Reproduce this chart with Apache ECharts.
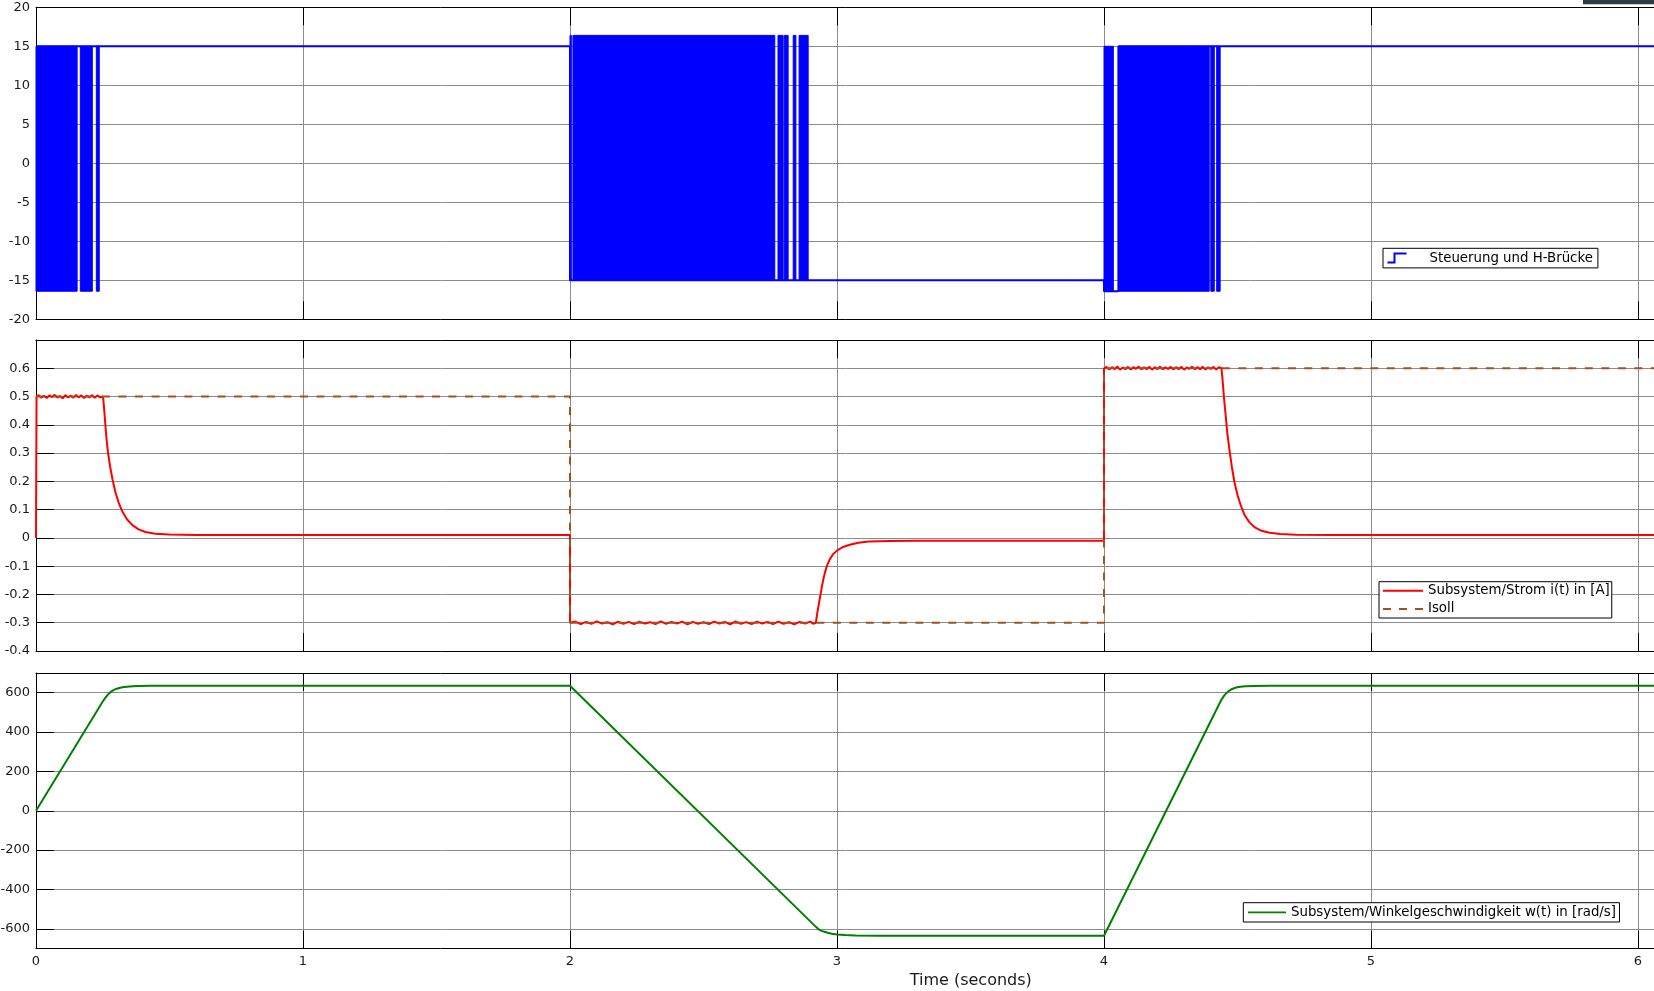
<!DOCTYPE html>
<html>
<head>
<meta charset="utf-8">
<title>Scope</title>
<script src="https://cdn.jsdelivr.net/npm/echarts@6/dist/echarts.min.js"></script>
<style>
    html, body { margin: 0; padding: 0; background: #fff; }
    #scope { width: 1654px; height: 991px; }
</style>
</head>
<body>
<div id="scope"></div>
<script>
// time axis ticks (seconds)
var timeTicks = [0, 1, 2, 3, 4, 5, 6];

// Steuerung und H-Bruecke: base level and dense switching blocks [t0, t1, low, high]
var uBase = [[0, 15], [2.0, 15], [2.0, -15], [4.0, -15], [4.0, -16.4], [4.054, -16.4], [4.054, 15], [6.1, 15]];
var uBursts = [
    [0, 0.154, -16.4, 15], [0.166, 0.211, -16.4, 15], [0.226, 0.237, -16.4, 15],
    [2.0, 2.005, -15, 16.4], [2.011, 2.767, -15, 16.4], [2.779, 2.798, -15, 16.4],
    [2.802, 2.817, -15, 16.4], [2.836, 2.846, -15, 16.4], [2.858, 2.892, -15, 16.4],
    [4.0, 4.035, -16.4, 15], [4.054, 4.394, -16.4, 15], [4.400, 4.413, -16.4, 15], [4.422, 4.435, -16.4, 15]
];

// Subsystem/Strom i(t) in [A]
var iIst = [
    [0, 0], [0.002, 0.5], [0.01, 0.505], [0.02, 0.496], [0.03, 0.503], [0.04, 0.495], [0.05, 0.504],
    [0.06, 0.498], [0.07, 0.506], [0.08, 0.496], [0.09, 0.502], [0.1, 0.494], [0.11, 0.505], [0.12, 0.497],
    [0.13, 0.503], [0.14, 0.496], [0.15, 0.506], [0.16, 0.497], [0.17, 0.504], [0.18, 0.495], [0.19, 0.503],
    [0.2, 0.497], [0.21, 0.505], [0.22, 0.496], [0.23, 0.504], [0.24, 0.497], [0.251, 0.5],
    [0.254, 0.47], [0.259, 0.41], [0.264, 0.35], [0.27, 0.3], [0.278, 0.25], [0.287, 0.205], [0.297, 0.163],
    [0.309, 0.126], [0.323, 0.094], [0.34, 0.067], [0.36, 0.046], [0.384, 0.03], [0.41, 0.021],
    [0.447, 0.015], [0.5, 0.012], [0.6, 0.0105], [0.8, 0.01], [2.0, 0.01],
    [2.0, -0.3], [2.02, -0.296], [2.04, -0.305], [2.06, -0.297], [2.08, -0.304], [2.1, -0.295],
    [2.12, -0.303], [2.14, -0.298], [2.16, -0.306], [2.18, -0.296], [2.2, -0.304], [2.22, -0.297],
    [2.24, -0.305], [2.26, -0.296], [2.28, -0.303], [2.3, -0.298], [2.32, -0.305], [2.34, -0.295],
    [2.36, -0.304], [2.38, -0.297], [2.4, -0.303], [2.42, -0.296], [2.44, -0.306], [2.46, -0.297],
    [2.48, -0.304], [2.5, -0.298], [2.52, -0.305], [2.54, -0.296], [2.56, -0.303], [2.58, -0.297],
    [2.6, -0.306], [2.62, -0.295], [2.64, -0.304], [2.66, -0.298], [2.68, -0.305], [2.7, -0.296],
    [2.72, -0.303], [2.74, -0.297], [2.76, -0.305], [2.78, -0.296], [2.8, -0.304], [2.82, -0.298],
    [2.84, -0.306], [2.86, -0.297], [2.88, -0.303], [2.9, -0.296], [2.91, -0.304], [2.921, -0.3],
    [2.925, -0.272], [2.93, -0.245], [2.936, -0.212], [2.942, -0.18], [2.948, -0.15], [2.955, -0.122],
    [2.963, -0.097], [2.973, -0.076], [2.985, -0.058], [3.0, -0.045], [3.02, -0.033], [3.048, -0.024],
    [3.08, -0.017], [3.12, -0.013], [3.2, -0.0105], [3.3, -0.01], [4.0, -0.01],
    [4.0, 0.6], [4.01, 0.605], [4.02, 0.596], [4.03, 0.604], [4.04, 0.597], [4.05, 0.606], [4.06, 0.595],
    [4.07, 0.603], [4.08, 0.597], [4.09, 0.605], [4.1, 0.596], [4.11, 0.604], [4.12, 0.598], [4.13, 0.606],
    [4.14, 0.596], [4.15, 0.603], [4.16, 0.597], [4.17, 0.605], [4.18, 0.595], [4.19, 0.604], [4.2, 0.597],
    [4.21, 0.606], [4.22, 0.596], [4.23, 0.603], [4.24, 0.598], [4.25, 0.605], [4.26, 0.596], [4.27, 0.604],
    [4.28, 0.597], [4.29, 0.605], [4.3, 0.595], [4.31, 0.603], [4.32, 0.598], [4.33, 0.606], [4.34, 0.596],
    [4.35, 0.604], [4.36, 0.597], [4.37, 0.605], [4.38, 0.596], [4.39, 0.603], [4.4, 0.598], [4.41, 0.605],
    [4.42, 0.596], [4.43, 0.604], [4.44, 0.6],
    [4.444, 0.56], [4.449, 0.5], [4.455, 0.44], [4.462, 0.37], [4.47, 0.31], [4.479, 0.25], [4.489, 0.195],
    [4.5, 0.152], [4.513, 0.113], [4.527, 0.08], [4.545, 0.055], [4.565, 0.037], [4.59, 0.025],
    [4.62, 0.018], [4.66, 0.014], [4.72, 0.0115], [4.85, 0.01], [6.1, 0.01]
];

// Isoll
var iSoll = [[0, 0.5], [2, 0.5], [2, -0.3], [4, -0.3], [4, 0.6], [6.1, 0.6]];

// Subsystem/Winkelgeschwindigkeit w(t) in [rad/s]
var omega = [
    [0, 0], [0.25, 555], [0.26, 575], [0.27, 592], [0.28, 604], [0.29, 613], [0.3, 619], [0.315, 625],
    [0.33, 629], [0.35, 632], [0.38, 634], [0.43, 635], [2.0, 635],
    [2.921, -590], [2.93, -601], [2.94, -609], [2.95, -614], [2.965, -620], [2.98, -625], [3.0, -629],
    [3.03, -632], [3.07, -634], [3.15, -635], [4.0, -635],
    [4.44, 565], [4.45, 585], [4.46, 600], [4.47, 611], [4.48, 619], [4.495, 626], [4.51, 630],
    [4.53, 633], [4.56, 634.5], [4.62, 635], [6.1, 635]
];
var omegaTicks = [-600, -400, -200, 0, 200, 400, 600];

var tMax   = 6.1;
var unitPx = 267;
var font   = 'DejaVu Sans';
var legendFont = 13.33;

// legend icons drawn inside a 40x14 box
var solidIcon  = 'path://M0,0M0,6H40V8H0ZM40,14';
var dashedIcon = 'path://M0,0M0,6H8V8H0ZM16,6H24V8H16ZM32,6H40V8H32ZM40,14';
var stepIcon   = 'path://M0,9L6,9L6,0L19,0L19,2L8,2L8,11L0,11Z';

function timeAxis(gridIndex, position, withLabels)
{
    var main = position == 'bottom';
    return {
        type: 'value',
        gridIndex: gridIndex,
        position: position,
        min: 0,
        max: tMax,
        interval: 1,
        axisLine: { show: true, onZero: false, lineStyle: { color: '#000', width: 1 } },
        axisTick: { show: true, inside: true, length: 18, lineStyle: { color: '#000' } },
        axisLabel: {
            show: withLabels,
            margin: 7,
            color: '#1a1a1a',
            fontFamily: font,
            fontSize: 13,
            showMaxLabel: false
        },
        splitLine: { show: main, lineStyle: { color: '#8c8c8c', width: 1 } }
    };
}

function valueAxis(gridIndex, extra)
{
    var axis = {
        type: 'value',
        gridIndex: gridIndex,
        axisLine: { show: true, onZero: false, lineStyle: { color: '#000', width: 1 } },
        axisTick: { show: true, inside: true, length: 18, lineStyle: { color: '#000' } },
        axisLabel: { margin: 6, color: '#1a1a1a', fontFamily: font, fontSize: 13 },
        splitLine: { show: true, lineStyle: { color: '#8c8c8c', width: 1 } }
    };
    for(var k in extra) axis[k] = extra[k];
    return axis;
}

function panel(top, height)
{
    return { left: 36, top: top, width: tMax * unitPx, height: height, containLabel: false, outerBoundsMode: 'none' };
}

var chartDom = document.getElementById('scope');
var scope = echarts.init(chartDom, null, { renderer: 'canvas' });
var option;

option = {
    animation: false,
    backgroundColor: '#fff',
    textStyle: { fontFamily: font },
    grid: [panel(7.3, 312), panel(340, 311), panel(673, 275.5)],
    xAxis: [
        timeAxis(0, 'bottom', false), timeAxis(0, 'top', false),
        timeAxis(1, 'bottom', false), timeAxis(1, 'top', false),
        timeAxis(2, 'bottom', true),  timeAxis(2, 'top', false)
    ],
    yAxis: [
        valueAxis(0, { min: -20, max: 20, interval: 5 }),
        valueAxis(1, { min: -0.4, max: 0.7, interval: 0.1 }),
        valueAxis(2, { min: -700, max: 700 })
    ],
    legend: [
        {
            data: ['Steuerung und H-Brücke'],
            left: 1383,
            top: 248.3,
            padding: [3.3, 5, 3.3, 4.5],
            icon: stepIcon,
            itemWidth: 19,
            itemHeight: 11,
            borderColor: '#000',
            borderWidth: 1,
            backgroundColor: '#fff',
            textStyle: { fontFamily: font, fontSize: legendFont, color: '#000', padding: [0, 0, 0, 18] }
        },
        {
            data: [
                { name: 'Subsystem/Strom i(t) in [A]', icon: solidIcon },
                { name: 'Isoll', icon: dashedIcon }
            ],
            orient: 'vertical',
            left: 1379,
            top: 581.7,
            padding: [2, 2, 2, 4],
            itemWidth: 40,
            itemHeight: 14,
            itemGap: 4.3,
            borderColor: '#000',
            borderWidth: 1,
            backgroundColor: '#fff',
            textStyle: { fontFamily: font, fontSize: legendFont, color: '#000' }
        },
        {
            data: [{ name: 'Subsystem/Winkelgeschwindigkeit w(t) in [rad/s]', icon: solidIcon }],
            left: 1243.3,
            top: 902.7,
            padding: [3, 3.5, 3, 4.7],
            itemWidth: 38,
            itemHeight: 13.3,
            borderColor: '#000',
            borderWidth: 1,
            backgroundColor: '#fff',
            textStyle: { fontFamily: font, fontSize: legendFont, color: '#000' }
        }
    ],
    graphic: [
        {
            type: 'text',
            left: 971 - 61.3,
            top: 973,
            style: { text: 'Time (seconds)', fontFamily: font, fontSize: 16, fill: '#1a1a1a' }
        },
        {
            type: 'rect',
            shape: { x: 1583, y: 0, width: 71, height: 4.3 },
            style: { fill: '#2d3b45' }
        }
    ],
    series: [
        {
            type: 'custom',
            xAxisIndex: 0,
            yAxisIndex: 0,
            data: uBursts,
            encode: { x: [0, 1], y: [2, 3] },
            renderItem: function(params, api)
            {
                var p0 = api.coord([api.value(0), api.value(3)]);
                var p1 = api.coord([api.value(1), api.value(2)]);
                return {
                    type: 'rect',
                    shape: { x: p0[0], y: p0[1], width: p1[0] - p0[0], height: p1[1] - p0[1] },
                    style: { fill: '#0000ff', stroke: '#0000ff', lineWidth: 1 }
                };
            }
        },
        {
            name: 'Steuerung und H-Brücke',
            type: 'line',
            xAxisIndex: 0,
            yAxisIndex: 0,
            color: '#0000ff',
            symbol: 'none',
            lineStyle: { width: 2, color: '#0000ff' },
            data: uBase
        },
        {
            name: 'Subsystem/Strom i(t) in [A]',
            type: 'line',
            xAxisIndex: 2,
            yAxisIndex: 1,
            color: '#ff0000',
            symbol: 'none',
            lineStyle: { width: 2, color: '#ff0000' },
            data: iIst
        },
        {
            name: 'Isoll',
            type: 'line',
            xAxisIndex: 2,
            yAxisIndex: 1,
            color: '#a5501e',
            symbol: 'none',
            lineStyle: { width: 2, color: '#a5501e', type: [8, 8.5] },
            data: iSoll
        },
        {
            name: 'Subsystem/Winkelgeschwindigkeit w(t) in [rad/s]',
            type: 'line',
            xAxisIndex: 4,
            yAxisIndex: 2,
            color: '#008000',
            symbol: 'none',
            lineStyle: { width: 2, color: '#008000' },
            data: omega
        }
    ]
};

option.yAxis[1].axisLabel.showMaxLabel = false;
option.yAxis[2].axisTick.customValues = omegaTicks;
option.yAxis[2].axisLabel.customValues = omegaTicks;

option && scope.setOption(option);
window.addEventListener('resize', scope.resize);
</script>
</body>
</html>
